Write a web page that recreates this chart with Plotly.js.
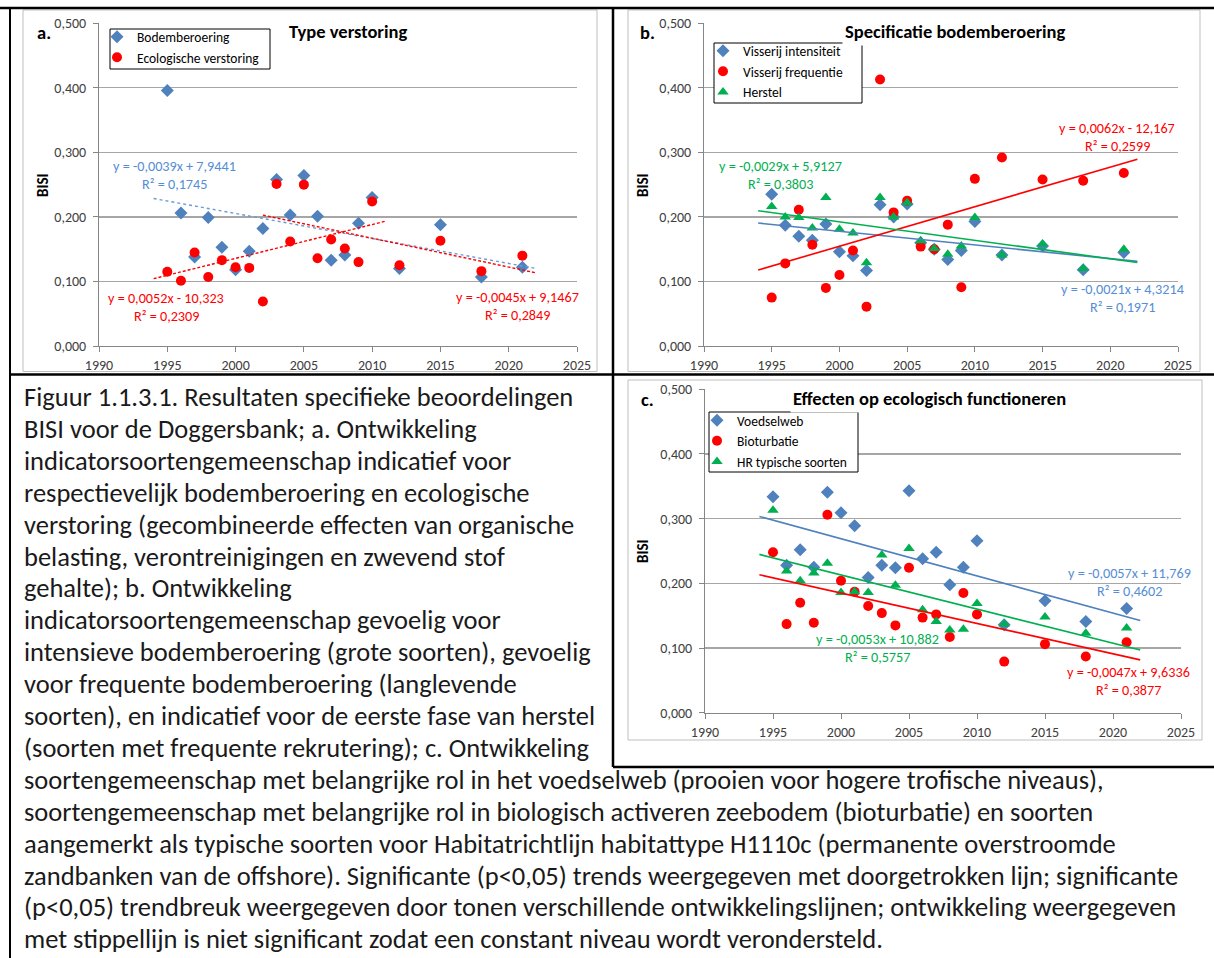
<!DOCTYPE html>
<html>
<head>
<meta charset="utf-8">
<script src="https://cdn.plot.ly/plotly-3.0.1.min.js"></script>
<style>
  html, body { margin: 0; padding: 0; background: #ffffff; }
  #fig { width: 1214px; height: 958px; }
</style>
</head>
<body>
<div id="fig"></div>
<script>
// Monitoring years (shared by all series)
const years = [1995, 1996, 1997, 1998, 1999, 2000, 2001, 2002, 2003, 2004,
               2005, 2006, 2007, 2008, 2009, 2010, 2012, 2015, 2018, 2021];

// a. Type verstoring
const bodemberoering = [0.396, 0.206, 0.138, 0.199, 0.153, 0.118, 0.147, 0.182, 0.258, 0.203,
                        0.264, 0.201, 0.133, 0.141, 0.190, 0.230, 0.120, 0.188, 0.107, 0.122];
const ecologischeVerstoring = [0.115, 0.101, 0.145, 0.107, 0.133, 0.122, 0.121, 0.069, 0.251, 0.162,
                               0.250, 0.136, 0.165, 0.151, 0.130, 0.224, 0.125, 0.163, 0.116, 0.140];
// trend break for ecologische verstoring: rising period and declining period
const ecoRisePeriod = [1995, 2010];
const ecoFallPeriod = [2003, 2021];

// b. Specificatie bodemberoering
const visserijIntensiteit = [0.235, 0.187, 0.170, 0.164, 0.189, 0.146, 0.140, 0.117, 0.219, 0.200,
                             0.220, 0.160, 0.150, 0.134, 0.148, 0.193, 0.141, 0.155, 0.118, 0.145];
const visserijFrequentie = [0.075, 0.128, 0.211, 0.157, 0.090, 0.110, 0.148, 0.061, 0.413, 0.207,
                            0.225, 0.154, 0.150, 0.188, 0.091, 0.259, 0.292, 0.258, 0.256, 0.268];
const herstel = [0.216, 0.200, 0.199, 0.183, 0.230, 0.181, 0.175, 0.129, 0.230, 0.200,
                 0.222, 0.163, 0.151, 0.142, 0.155, 0.199, 0.141, 0.158, 0.120, 0.150];

// c. Effecten op ecologisch functioneren
const voedselweb = [0.334, 0.228, 0.252, 0.225, 0.341, 0.309, 0.289, 0.209, 0.228, 0.224,
                    0.343, 0.238, 0.248, 0.198, 0.225, 0.266, 0.136, 0.173, 0.141, 0.161];
const bioturbatie = [0.248, 0.137, 0.170, 0.139, 0.306, 0.204, 0.187, 0.165, 0.154, 0.135,
                     0.224, 0.147, 0.152, 0.117, 0.185, 0.152, 0.079, 0.106, 0.087, 0.109];
const hrTypischeSoorten = [0.313, 0.219, 0.204, 0.216, 0.231, 0.186, 0.187, 0.186, 0.244, 0.197,
                           0.254, 0.159, 0.141, 0.128, 0.129, 0.169, 0.137, 0.148, 0.123, 0.131];

// Trend equations as printed next to the lines
const eqA = {
  bodem: ['y = -0,0039x + 7,9441', 'R² = 0,1745'],
  ecoRise: ['y = 0,0052x - 10,323', 'R² = 0,2309'],
  ecoFall: ['y = -0,0045x + 9,1467', 'R² = 0,2849']
};
const eqB = {
  intensiteit: ['y = -0,0021x + 4,3214', 'R² = 0,1971'],
  frequentie: ['y = 0,0062x - 12,167', 'R² = 0,2599'],
  herstel: ['y = -0,0029x + 5,9127', 'R² = 0,3803']
};
const eqC = {
  voedselweb: ['y = -0,0057x + 11,769', 'R² = 0,4602'],
  bioturbatie: ['y = -0,0047x + 9,6336', 'R² = 0,3877'],
  hr: ['y = -0,0053x + 10,882', 'R² = 0,5757']
};

const captionLines = [
  'Figuur 1.1.3.1. Resultaten specifieke beoordelingen',
  'BISI voor de Doggersbank; a. Ontwikkeling',
  'indicatorsoortengemeenschap indicatief voor',
  'respectievelijk bodemberoering en ecologische',
  'verstoring (gecombineerde effecten van organische',
  'belasting, verontreinigingen en zwevend stof',
  'gehalte); b. Ontwikkeling',
  'indicatorsoortengemeenschap gevoelig voor',
  'intensieve bodemberoering (grote soorten), gevoelig',
  'voor frequente bodemberoering (langlevende',
  'soorten), en indicatief voor de eerste fase van herstel',
  '(soorten met frequente rekrutering); c. Ontwikkeling',
  'soortengemeenschap met belangrijke rol in het voedselweb (prooien voor hogere trofische niveaus),',
  'soortengemeenschap met belangrijke rol in biologisch activeren zeebodem (bioturbatie) en soorten',
  'aangemerkt als typische soorten voor Habitatrichtlijn habitattype H1110c (permanente overstroomde',
  'zandbanken van de offshore). Significante (p&lt;0,05) trends weergegeven met doorgetrokken lijn; significante',
  '(p&lt;0,05) trendbreuk weergegeven door tonen verschillende ontwikkelingslijnen; ontwikkeling weergegeven',
  'met stippellijn is niet significant zodat een constant niveau wordt verondersteld.'
];

// ---- helpers -------------------------------------------------------------
const W = 1214, H = 958;
const fx = v => v / W;          // pixel column -> paper x
const fy = v => 1 - v / H;      // pixel row -> paper y
const FONT = 'Carlito, Lato, "Liberation Sans", sans-serif';

const BLUE = '#4F81BD', RED = '#FF0000', GREEN = '#00B050';
const BLUE_TXT = '#558ED5';
const TICK_SIZE = 14, EQ_SIZE = 14.2, LEG_SIZE = 13.5, TITLE_SIZE = 18.5;

// Least-squares line over the points inside [from, to], extended one year on both sides
function trend(xs, ys, from, to) {
  const px = [], py = [];
  xs.forEach((x, i) => { if (x >= from && x <= to) { px.push(x); py.push(ys[i]); } });
  const n = px.length;
  const mx = px.reduce((a, b) => a + b, 0) / n;
  const my = py.reduce((a, b) => a + b, 0) / n;
  let sxy = 0, sxx = 0;
  for (let i = 0; i < n; i++) { sxy += (px[i] - mx) * (py[i] - my); sxx += (px[i] - mx) ** 2; }
  const m = sxy / sxx, b = my - m * mx;
  const x0 = Math.min(...px) - 1, x1 = Math.max(...px) + 1;
  return { x: [x0, x1], y: [m * x0 + b, m * x1 + b] };
}

const first = years[0], last = years[years.length - 1];

function pts(name, ys, sym, color, size, xa, ya, leg) {
  return { type: 'scatter', mode: 'markers', name: name, x: years, y: ys,
           xaxis: xa, yaxis: ya, legend: leg,
           marker: { symbol: sym, color: color, size: size, line: { width: 0 } },
           hoverinfo: 'x+y' };
}
function line(ys, from, to, color, dash, xa, ya) {
  const t = trend(years, ys, from, to);
  return { type: 'scatter', mode: 'lines', x: t.x, y: t.y, xaxis: xa, yaxis: ya,
           showlegend: false, hoverinfo: 'skip',
           line: { color: color, width: dash === 'solid' ? 1.6 : 1.4, dash: dash } };
}

const traces = [
  // a
  pts('Bodemberoering', bodemberoering, 'diamond', BLUE, 10, 'x', 'y', 'legend'),
  pts('Ecologische verstoring', ecologischeVerstoring, 'circle', RED, 10, 'x', 'y', 'legend'),
  line(bodemberoering, first, last, '#6A9AD6', 'dot', 'x', 'y'),
  line(ecologischeVerstoring, ecoRisePeriod[0], ecoRisePeriod[1], RED, '3px,2px', 'x', 'y'),
  line(ecologischeVerstoring, ecoFallPeriod[0], ecoFallPeriod[1], RED, '3px,2px', 'x', 'y'),
  // b
  pts('Visserij intensiteit', visserijIntensiteit, 'diamond', BLUE, 10, 'x2', 'y2', 'legend2'),
  pts('Visserij frequentie', visserijFrequentie, 'circle', RED, 10, 'x2', 'y2', 'legend2'),
  pts('Herstel', herstel, 'triangle-up', GREEN, 10, 'x2', 'y2', 'legend2'),
  line(visserijIntensiteit, first, last, BLUE, 'solid', 'x2', 'y2'),
  line(visserijFrequentie, first, last, RED, 'solid', 'x2', 'y2'),
  line(herstel, first, last, GREEN, 'solid', 'x2', 'y2'),
  // c
  pts('Voedselweb', voedselweb, 'diamond', BLUE, 10, 'x3', 'y3', 'legend3'),
  pts('Bioturbatie', bioturbatie, 'circle', RED, 10, 'x3', 'y3', 'legend3'),
  pts('HR typische soorten', hrTypischeSoorten, 'triangle-up', GREEN, 10, 'x3', 'y3', 'legend3'),
  line(voedselweb, first, last, BLUE, 'solid', 'x3', 'y3'),
  line(bioturbatie, first, last, RED, 'solid', 'x3', 'y3'),
  line(hrTypischeSoorten, first, last, GREEN, 'solid', 'x3', 'y3')
];

function xAxis(dom, anchor) {
  return { domain: dom, anchor: anchor, range: [1990, 2025], dtick: 5, tick0: 1990,
           showgrid: false, zeroline: false, showline: true, linecolor: '#868686', linewidth: 1,
           ticks: 'outside', ticklen: 5, tickcolor: '#868686', ticklabelstandoff: 1,
           tickfont: { family: FONT, size: TICK_SIZE, color: '#404040' }, fixedrange: true };
}
function yAxis(dom, anchor) {
  return { domain: dom, anchor: anchor, range: [0, 0.5], dtick: 0.1, tick0: 0, tickformat: '.3f',
           showgrid: true, gridcolor: '#A6A6A6', gridwidth: 1.3, zeroline: false,
           showline: true, linecolor: '#868686', linewidth: 1,
           ticks: 'outside', ticklen: 5, tickcolor: '#868686', ticklabelstandoff: 4,
           tickfont: { family: FONT, size: TICK_SIZE, color: '#404040' }, fixedrange: true };
}

function txt(s, x, y, opts) {
  return Object.assign({ text: s, x: fx(x), y: fy(y), xref: 'paper', yref: 'paper',
                         showarrow: false, xanchor: 'center', yanchor: 'middle',
                         font: { family: FONT, size: EQ_SIZE, color: '#000' } }, opts || {});
}
function eq(lines, cx, cy, color) {
  return [txt(lines[0], cx, cy, { font: { family: FONT, size: EQ_SIZE, color: color } }),
          txt(lines[1], cx, cy + 17.5, { font: { family: FONT, size: EQ_SIZE, color: color } })];
}
function title(s, cx, cy) {
  return txt('<b>' + s + '</b>', cx, cy, { bgcolor: '#ffffff', borderpad: 2,
              font: { family: FONT, size: TITLE_SIZE, color: '#000' } });
}
function bisi(cx, cy) {
  return txt('<b>BISI</b>', cx, cy, { textangle: -90, font: { family: FONT, size: 15, color: '#000' } });
}
function rect(x0, y0, x1, y1, color, width, fill) {
  return { type: 'rect', xref: 'paper', yref: 'paper', x0: fx(x0), x1: fx(x1), y0: fy(y0), y1: fy(y1),
           line: { color: color, width: width }, fillcolor: fill || 'rgba(0,0,0,0)', layer: 'above' };
}
function hline(x0, x1, y, width) {
  return { type: 'line', xref: 'paper', yref: 'paper', x0: fx(x0), x1: fx(x1), y0: fy(y), y1: fy(y),
           line: { color: '#000', width: width }, layer: 'above' };
}
function vline(x, y0, y1, width) {
  return { type: 'line', xref: 'paper', yref: 'paper', x0: fx(x), x1: fx(x), y0: fy(y0), y1: fy(y1),
           line: { color: '#000', width: width }, layer: 'above' };
}
function legendBox(x, y) {
  return { x: fx(x), y: fy(y), xanchor: 'left', yanchor: 'top', bgcolor: 'rgba(0,0,0,0)',
           borderwidth: 0, itemwidth: 30, tracegroupgap: 0, itemclick: false, itemdoubleclick: false,
           font: { family: FONT, size: LEG_SIZE, color: '#000' } };
}

const annotations = [
  txt('<b>a.</b>', 44, 33, { font: { family: FONT, size: TITLE_SIZE, color: '#000' } }),
  txt('<b>b.</b>', 647, 33, { font: { family: FONT, size: TITLE_SIZE, color: '#000' } }),
  txt('<b>c.</b>', 647, 399, { font: { family: FONT, size: TITLE_SIZE, color: '#000' } }),
  title('Type verstoring', 348, 32),
  title('Specificatie bodemberoering', 955, 32),
  title('Effecten op ecologisch functioneren', 929, 398),
  bisi(43, 185), bisi(643, 185), bisi(643, 551),
  ...eq(eqA.bodem, 174, 166, BLUE_TXT),
  ...eq(eqA.ecoRise, 166, 298, RED),
  ...eq(eqA.ecoFall, 517, 297, RED),
  ...eq(eqB.herstel, 780, 166, GREEN),
  ...eq(eqB.frequentie, 1117, 128, RED),
  ...eq(eqB.intensiteit, 1122, 289, BLUE_TXT),
  ...eq(eqC.voedselweb, 1129, 573, BLUE_TXT),
  ...eq(eqC.hr, 877, 639, GREEN),
  ...eq(eqC.bioturbatie, 1128, 672, RED)
];
captionLines.forEach((s, i) => {
  annotations.push(txt(s, 22, 397 + 31.9 * i,
    { xanchor: 'left', font: { family: FONT, size: 26.5, color: '#1a1a1a' } }));
});

const shapes = [
  // chart area frames
  rect(23, 10, 597, 371.5, '#BFBFBF', 1),
  rect(628, 10, 1200, 371.5, '#BFBFBF', 1),
  rect(628, 380, 1202, 740, '#BFBFBF', 1),
  // legend boxes
  rect(110, 29, 270, 69, '#000', 1, '#ffffff'),
  rect(714, 43, 862, 103, '#000', 1, '#ffffff'),
  rect(709, 412, 858, 472, '#000', 1, '#ffffff'),
  // table rules around the figure panels and caption
  hline(0, W, 8, 2.5),
  hline(10, W, 374.5, 2.5),
  hline(613, W, 767, 2.5),
  vline(10, 8, H, 2),
  vline(613, 8, 767, 2.5)
];

const layout = {
  width: W, height: H, margin: { l: 0, r: 0, t: 0, b: 0 },
  paper_bgcolor: '#ffffff', plot_bgcolor: 'rgba(0,0,0,0)',
  separators: ', ',
  font: { family: FONT },
  xaxis: xAxis([fx(99), fx(577)], 'y'),
  yaxis: yAxis([fy(346), fy(23.3)], 'x'),
  xaxis2: xAxis([fx(704), fx(1178)], 'y2'),
  yaxis2: yAxis([fy(346), fy(23.3)], 'x2'),
  xaxis3: xAxis([fx(705), fx(1181)], 'y3'),
  yaxis3: yAxis([fy(712.7), fy(389.3)], 'x3'),
  legend: legendBox(97, 21.5),
  legend2: legendBox(703, 35.5),
  legend3: legendBox(697, 405),
  showlegend: true,
  annotations: annotations,
  shapes: shapes
};

Plotly.newPlot('fig', traces, layout, { staticPlot: true, displayModeBar: false });
</script>
</body>
</html>
